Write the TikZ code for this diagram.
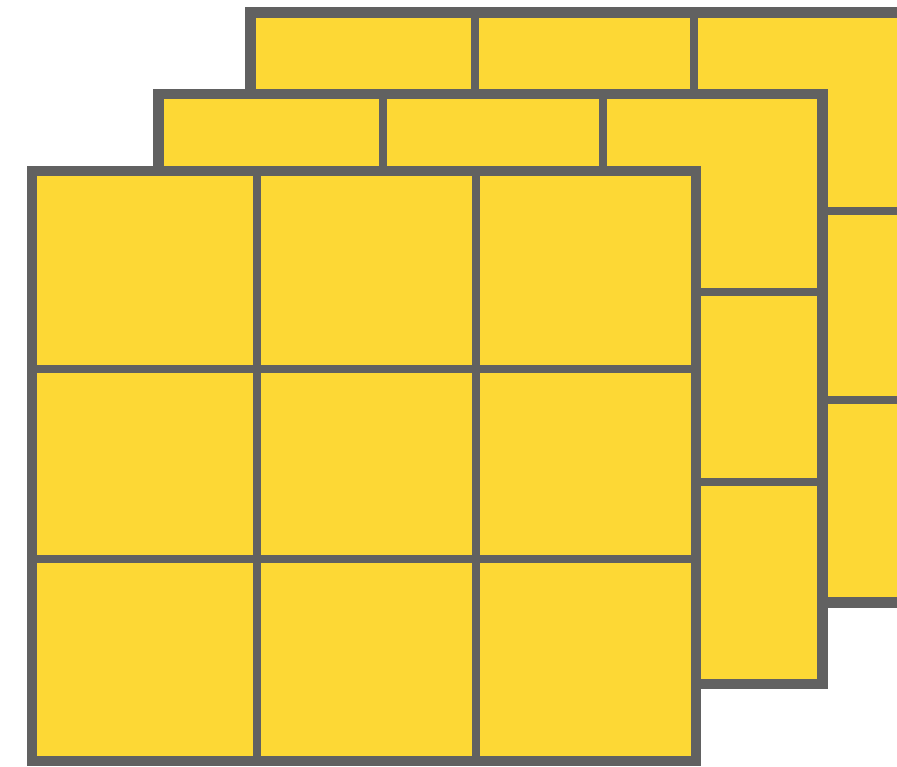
\documentclass[tikz,border=0pt]{standalone}
\definecolor{panelyellow}{RGB}{253,216,53}
\definecolor{panelgray}{RGB}{97,97,97}
\tikzset{
  innerline/.style={draw=panelgray, line width=8pt},
  outerline/.style={draw=panelgray, line width=10.5pt},
  panel/.pic={
    \fill[panelyellow] (0,0) rectangle (664,590);
    \draw[innerline] (224.5,0) -- (224.5,590)
                     (444,0) -- (444,590)
                     (0,198.3) -- (664,198.3)
                     (0,387.8) -- (664,387.8);
    \draw[outerline] (0,0) rectangle (664,590);
  }
}
\begin{document}
\begin{tikzpicture}[x=1pt,y=-1pt]
  \useasboundingbox (0,0) rectangle (897,767);
  \clip (0,0) rectangle (897,767);
  \pic (back) at (250.3,12.3) {panel};
  \pic (middle) at (158.7,94) {panel};
  \pic (front) at (32,171) {panel};
\end{tikzpicture}
\end{document}
